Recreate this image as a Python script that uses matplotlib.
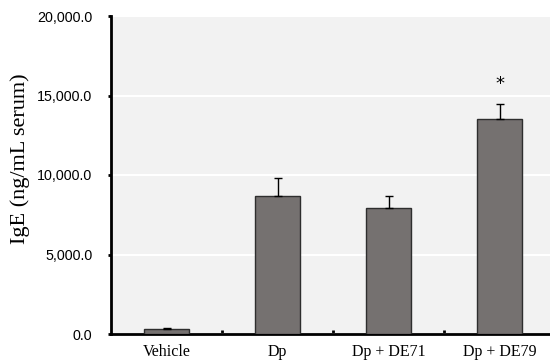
import matplotlib
matplotlib.use("Agg")
import matplotlib.pyplot as plt

categories = ["Vehicle", "Dp", "Dp + DE71", "Dp + DE79"]
values = [300, 8700, 7900, 13500]
errors = [60, 1130, 780, 950]
y_ticks = [0, 5000, 10000, 15000, 20000]
y_tick_labels = ["0.0", "5,000.0", "10,000.0", "15,000.0", "20,000.0"]
star_index = 3
star_value = 15750

fig = plt.figure(figsize=(5.5, 3.61), dpi=100)
ax = fig.add_axes([111/550, 27/361, 444/550, 318/361])
ax.set_facecolor("#f2f2f2")

x = list(range(len(categories)))
ax.bar(x, values, width=0.41, color="#757170", edgecolor="#2e2e2e", linewidth=1.0, zorder=3)
ax.errorbar(x, values, yerr=[[0]*len(errors), errors], fmt="none", ecolor="black",
            elinewidth=1.0, capsize=3, capthick=1.0, zorder=4)

ax.text(star_index, star_value, "*", ha="center", va="center", fontsize=13,
        family="DejaVu Sans", zorder=5)

ax.set_ylim(0, 20000)
ax.set_xlim(-0.5, len(categories) - 0.5)
ax.set_yticks(y_ticks)
ax.set_yticklabels(y_tick_labels, family="Liberation Sans", fontsize=10.3)
ax.yaxis.grid(True, color="white", linewidth=1.5, zorder=0)
ax.set_axisbelow(True)

ax.set_xticks(x)
ax.set_xticklabels(categories, family="Liberation Serif", fontsize=11.5)
ax.tick_params(axis="x", which="major", length=0, pad=7)
ax.set_xticks([i + 0.5 for i in x[:-1]], minor=True)
ax.tick_params(axis="x", which="minor", direction="in", length=3, width=2, color="black")
ax.tick_params(axis="y", which="major", direction="out", length=2.5, width=2, pad=11, color="black")

for s in ["top", "right"]:
    ax.spines[s].set_visible(False)
for s in ["left", "bottom"]:
    ax.spines[s].set_linewidth(2)
    ax.spines[s].set_color("black")

fig.text(20/550, 1 - 159/361, "IgE (ng/mL serum)", rotation=90, ha="center", va="center",
         family="Liberation Serif", fontsize=16)

fig.savefig("out.png", dpi=100, facecolor="white")
